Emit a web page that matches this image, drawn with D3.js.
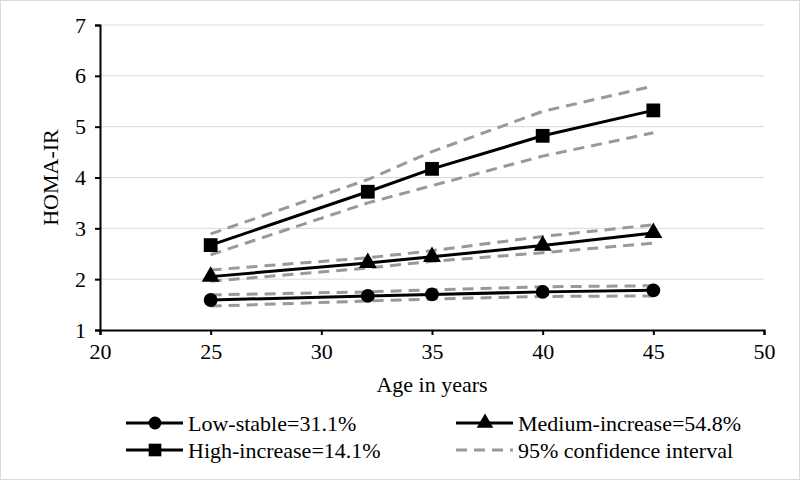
<!DOCTYPE html>
<html>
<head>
<meta charset="utf-8">
<script src="https://cdn.jsdelivr.net/npm/d3@7"></script>
<style>
  body { margin: 0; background: #fff; }
</style>
</head>
<body>
<div id="svg_wrapper"></div>
<script>
const ages = [25, 32.1, 35, 40, 45];

const lowStable = [1.59, 1.67, 1.70, 1.75, 1.78];
const lowUpper = [1.69, 1.75, 1.79, 1.85, 1.87];
const lowLower = [1.47, 1.57, 1.61, 1.66, 1.67];

const mediumIncrease = [2.05, 2.32, 2.44, 2.66, 2.91];
const mediumUpper = [2.18, 2.42, 2.56, 2.84, 3.07];
const mediumLower = [1.96, 2.22, 2.35, 2.52, 2.71];

const highIncrease = [2.67, 3.72, 4.17, 4.82, 5.32];
const highUpper = [2.89, 3.96, 4.51, 5.30, 5.80];
const highLower = [2.48, 3.50, 3.84, 4.42, 4.88];

const xTicks = [20, 25, 30, 35, 40, 45, 50];
const yTicks = [1, 2, 3, 4, 5, 6, 7];

const legendLabels = ['Low-stable=31.1%', 'Medium-increase=54.8%', 'High-increase=14.1%', '95% confidence interval'];

const width = 800, height = 480;
const margin = { left: 100, right: 36, top: 25, bottom: 150 };
const fontFamily = "'Liberation Serif', 'Times New Roman', Times, serif";
const fontSize = 22;

const svg = d3.select('#svg_wrapper')
  .append('svg')
  .attr('width', width)
  .attr('height', height)
  .style('display', 'block')
  .style('font-family', fontFamily);

svg.append('rect')
  .attr('x', 0.5).attr('y', 0.5)
  .attr('width', width - 1).attr('height', height - 1)
  .attr('fill', '#fff')
  .attr('stroke', '#d9d9d9');

const x = d3.scaleLinear().domain([20, 50]).range([margin.left, width - margin.right]);
const y = d3.scaleLinear().domain([1, 7]).range([height - margin.bottom, margin.top]);

// gridlines
svg.append('g')
  .selectAll('line')
  .data(yTicks.slice(1))
  .enter()
  .append('line')
  .attr('x1', x(20))
  .attr('x2', x(50))
  .attr('y1', d => y(d))
  .attr('y2', d => y(d))
  .attr('stroke', '#d9d9d9')
  .attr('stroke-width', 1);

// axes
const xAxis = svg.append('g')
  .attr('transform', `translate(0,${y(1)})`)
  .call(d3.axisBottom(x).tickValues(xTicks).tickFormat(d3.format('d')).tickSize(5).tickPadding(8));

const yAxis = svg.append('g')
  .attr('transform', `translate(${x(20)},0)`)
  .call(d3.axisLeft(y).tickValues(yTicks).tickFormat(d3.format('d')).tickSize(5).tickPadding(9));

[xAxis, yAxis].forEach(g => {
  g.attr('font-family', fontFamily);
  g.select('.domain').attr('stroke', '#000').attr('stroke-width', 2);
  g.selectAll('.tick line').attr('stroke', '#000').attr('stroke-width', 2);
  g.selectAll('.tick text')
    .attr('font-size', fontSize)
    .style('font-family', fontFamily)
    .attr('fill', '#000');
});

svg.append('text')
  .attr('x', (x(20) + x(50)) / 2)
  .attr('y', 392)
  .attr('text-anchor', 'middle')
  .attr('font-size', fontSize)
  .text('Age in years');

svg.append('text')
  .attr('transform', `translate(58,${(y(1) + y(7)) / 2}) rotate(-90)`)
  .attr('text-anchor', 'middle')
  .attr('font-size', fontSize)
  .text('HOMA-IR');

const line = d3.line()
  .x((d, i) => x(ages[i]))
  .y(d => y(d));

const ciStyle = sel => sel
  .attr('fill', 'none')
  .attr('stroke', '#999')
  .attr('stroke-width', 3)
  .attr('stroke-dasharray', '11,7');

[lowUpper, lowLower, mediumUpper, mediumLower, highUpper, highLower].forEach(s => {
  svg.append('path').datum(s).attr('d', line).call(ciStyle);
});

const series = [
  { values: lowStable, symbol: d3.symbolCircle, size: 150 },
  { values: mediumIncrease, symbol: d3.symbolTriangle, size: 140 },
  { values: highIncrease, symbol: d3.symbolSquare, size: 190 }
];

series.forEach(s => {
  svg.append('path')
    .datum(s.values)
    .attr('d', line)
    .attr('fill', 'none')
    .attr('stroke', '#000')
    .attr('stroke-width', 3);

  svg.append('g')
    .selectAll('path')
    .data(s.values)
    .enter()
    .append('path')
    .attr('transform', (d, i) => `translate(${x(ages[i])},${y(d)})`)
    .attr('d', d3.symbol().type(s.symbol).size(s.size))
    .attr('fill', '#000');
});

// legend
const legendItems = [
  { label: legendLabels[0], symbol: d3.symbolCircle, size: 130, col: 0, row: 0 },
  { label: legendLabels[1], symbol: d3.symbolTriangle, size: 120, col: 1, row: 0 },
  { label: legendLabels[2], symbol: d3.symbolSquare, size: 160, col: 0, row: 1 },
  { label: legendLabels[3], symbol: null, col: 1, row: 1 }
];

const legend = svg.append('g');

legendItems.forEach(item => {
  const lx = item.col === 0 ? 126 : 456;
  const ly = item.row === 0 ? 423 : 450;
  const g = legend.append('g').attr('transform', `translate(${lx},${ly})`);

  if (item.symbol) {
    g.append('line')
      .attr('x1', 0).attr('x2', 57)
      .attr('y1', 0).attr('y2', 0)
      .attr('stroke', '#000')
      .attr('stroke-width', 3);
    g.append('path')
      .attr('transform', 'translate(29,0)')
      .attr('d', d3.symbol().type(item.symbol).size(item.size))
      .attr('fill', '#000');
  } else {
    g.append('line')
      .attr('x1', 0).attr('x2', 57)
      .attr('y1', 0).attr('y2', 0)
      .call(ciStyle);
  }

  g.append('text')
    .attr('x', 62)
    .attr('y', 0)
    .attr('dy', '0.35em')
    .attr('font-size', fontSize)
    .text(item.label);
});
</script>
</body>
</html>
